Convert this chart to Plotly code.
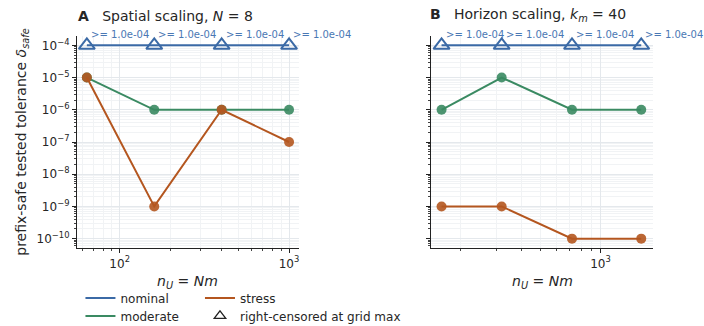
import math
import plotly.graph_objects as go
from plotly.subplots import make_subplots

# Panel A: spatial scaling at N = 8 (n_U = N*m)
nu_spatial = [64, 160, 400, 1000]
spatial_nominal = [1e-4, 1e-4, 1e-4, 1e-4]
spatial_moderate = [1e-5, 1e-6, 1e-6, 1e-6]
spatial_stress = [1e-5, 1e-9, 1e-6, 1e-7]

# Panel B: horizon scaling at k_m = 40
nu_horizon = [160, 320, 720, 1600]
horizon_nominal = [1e-4, 1e-4, 1e-4, 1e-4]
horizon_moderate = [1e-6, 1e-5, 1e-6, 1e-6]
horizon_stress = [1e-9, 1e-9, 1e-10, 1e-10]

censor_label = ">= 1.0e-04"

y_tickvals = [1e-4, 1e-5, 1e-6, 1e-7, 1e-8, 1e-9, 1e-10]
y_ticktext = ["10<sup>\u22124</sup>", "10<sup>\u22125</sup>", "10<sup>\u22126</sup>",
              "10<sup>\u22127</sup>", "10<sup>\u22128</sup>", "10<sup>\u22129</sup>",
              "10<sup>\u221210</sup>"]
x_tickvals = [100, 1000]
x_ticktext = ["10<sup>2</sup>", "10<sup>3</sup>"]

# minor log ticks at 2..9 of every decade
x_minor = [k * 10 ** d for d in range(1, 4) for k in range(2, 10)]
y_minor = [k * 10.0 ** d for d in range(-11, -3) for k in range(2, 10)]

BLUE = "#3b6aa6"
GREEN = "#3a8a62"
ORANGE = "#b4561f"
TEXT = "#262626"
FONT = "DejaVu Sans"

fig = make_subplots(rows=1, cols=2, horizontal_spacing=0.229)

panels = [
    (1, nu_spatial, spatial_nominal, spatial_moderate, spatial_stress),
    (2, nu_horizon, horizon_nominal, horizon_moderate, horizon_stress),
]

for col, xs, nom, mod, stress in panels:
    first = col == 1
    fig.add_trace(go.Scatter(
        x=xs, y=nom, mode="lines+markers", name="nominal",
        line=dict(color=BLUE, width=2),
        marker=dict(symbol="triangle-up-open", size=14, color=BLUE,
                    line=dict(width=2, color=BLUE)),
        showlegend=False), row=1, col=col)
    fig.add_trace(go.Scatter(
        x=xs, y=mod, mode="lines+markers", name="moderate",
        line=dict(color=GREEN, width=2),
        marker=dict(symbol="circle", size=10, color=GREEN, opacity=0.9),
        showlegend=False), row=1, col=col)
    fig.add_trace(go.Scatter(
        x=xs, y=stress, mode="lines+markers", name="stress",
        line=dict(color=ORANGE, width=2),
        marker=dict(symbol="circle", size=10, color=ORANGE, opacity=0.9),
        showlegend=False), row=1, col=col)
    xref = "x" if first else "x2"
    yref = "y" if first else "y2"
    for xv, yv in zip(xs, nom):
        # annotations on log axes take log10 coordinates
        fig.add_annotation(x=math.log10(xv), y=math.log10(yv), xref=xref, yref=yref,
                           text=censor_label, showarrow=False,
                           xanchor="left", yanchor="middle", xshift=2, yshift=11,
                           font=dict(family=FONT, size=10, color="#4a78b4"))

# Legend entries, one legend per slot so the two columns line up
# (positions in container fractions so the plot area is not squeezed)
legend_items = [
    ("nominal", dict(color=BLUE, width=2), None, "legend", 0.006, 0.086),
    ("stress", dict(color=ORANGE, width=2), None, "legend2", 0.2135, 0.086),
    ("moderate", dict(color=GREEN, width=2), None, "legend3", 0.006, 0.031),
    ("right-censored at grid max", None,
     dict(symbol="triangle-up-open", size=10, color="#222222", line=dict(width=1.3)),
     "legend4", 0.2135, 0.031),
]
legend_layout = {}
for name, line, marker, leg, lx, ly in legend_items:
    fig.add_trace(go.Scatter(
        x=[None], y=[None], name=name,
        mode="lines" if line else "markers",
        line=line, marker=marker, legend=leg, showlegend=True), row=1, col=1)
    legend_layout[leg] = dict(x=lx, y=ly, yref="container", xanchor="left",
                              yanchor="middle", orientation="h",
                              bgcolor="rgba(0,0,0,0)",
                              font=dict(family=FONT, size=12, color=TEXT))

axis_common = dict(
    type="log", showline=True, linecolor="#222222", linewidth=1.2,
    ticks="outside", ticklen=4, tickwidth=1, tickcolor="#222222",
    showgrid=True, gridcolor="#e4e8ec", gridwidth=1, zeroline=False,
    automargin=False,
    tickfont=dict(family=FONT, size=12, color=TEXT),
)

fig.update_xaxes(axis_common)
fig.update_yaxes(axis_common)

x_minor_cfg = dict(tickvals=x_minor, ticks="outside", ticklen=2, tickcolor="#444444",
                   showgrid=True, gridcolor="#f1f3f5", gridwidth=1)
y_minor_cfg = dict(tickvals=y_minor, ticks="outside", ticklen=2, tickcolor="#444444",
                   showgrid=True, gridcolor="#f1f3f5", gridwidth=1)

fig.update_xaxes(range=[1.748, 3.059], tickvals=x_tickvals, ticktext=x_ticktext,
                 minor=x_minor_cfg, row=1, col=1)
fig.update_xaxes(range=[2.151, 3.263], tickvals=x_tickvals, ticktext=x_ticktext,
                 minor=x_minor_cfg, row=1, col=2)
fig.update_yaxes(range=[-10.29, -3.71], tickvals=y_tickvals, ticktext=y_ticktext,
                 minor=y_minor_cfg,
                 title=dict(text="prefix-safe tested tolerance <i>\u03b4</i><sub><i>safe</i></sub>",
                            font=dict(family=FONT, size=14, color=TEXT), standoff=6),
                 row=1, col=1)
fig.update_yaxes(range=[-10.29, -3.71], tickvals=y_tickvals, showticklabels=False,
                 minor=y_minor_cfg, row=1, col=2)

fig.update_layout(
    width=704, height=326,
    margin=dict(l=77, r=51, t=36, b=78, autoexpand=False),
    paper_bgcolor="white", plot_bgcolor="white",
    font=dict(family=FONT, color=TEXT),
    **legend_layout,
)

# x-axis titles, centred under each panel
x_title_text = "<i>n</i><sub><i>U</i></sub> = <i>Nm</i>"
for xc in (0.1927, 0.8073):
    fig.add_annotation(x=xc, y=-0.16, xref="paper", yref="paper", xanchor="center",
                       yanchor="middle", showarrow=False, text=x_title_text,
                       font=dict(family=FONT, size=14, color=TEXT))

# Panel titles
fig.add_annotation(x=-0.002, y=1.045, xref="paper", yref="paper", xanchor="left",
                   yanchor="bottom", showarrow=False,
                   text="<b>A</b>   Spatial scaling, <i>N</i> = 8",
                   font=dict(family=FONT, size=14, color=TEXT))
fig.add_annotation(x=0.6086, y=1.045, xref="paper", yref="paper", xanchor="left",
                   yanchor="bottom", showarrow=False,
                   text="<b>B</b>   Horizon scaling, <i>k</i><sub><i>m</i></sub> = 40",
                   font=dict(family=FONT, size=14, color=TEXT))

fig.write_html("out.html")
